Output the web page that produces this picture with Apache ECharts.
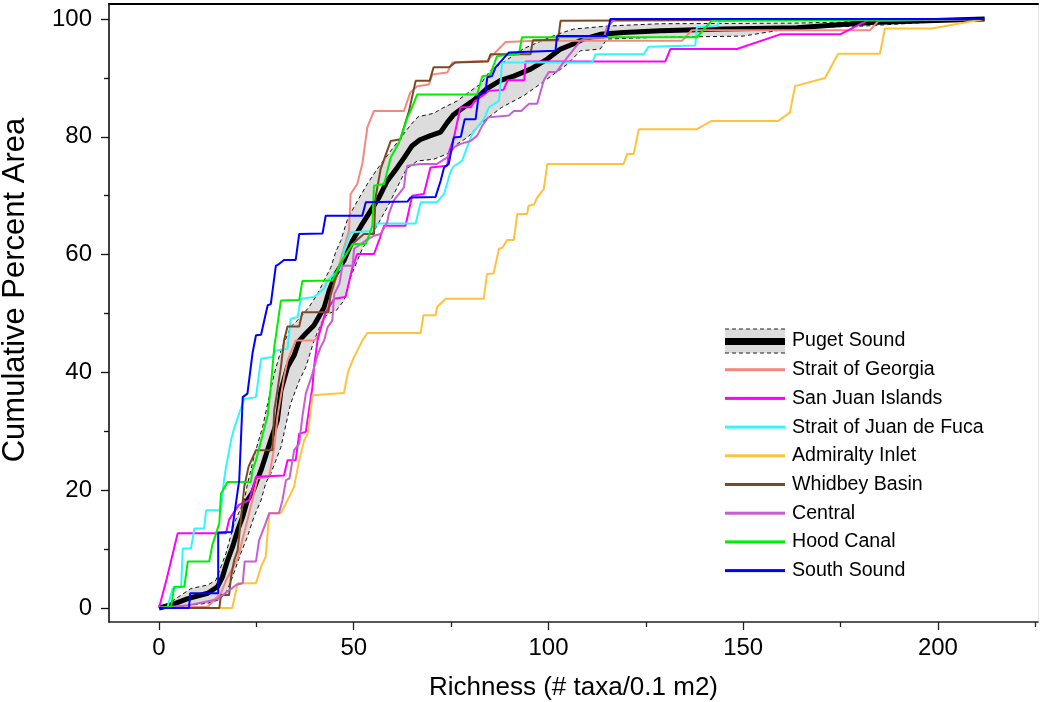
<!DOCTYPE html>
<html>
<head>
<meta charset="utf-8">
<script src="https://cdn.jsdelivr.net/npm/echarts@6/dist/echarts.min.js"></script>
<style>
html,body{margin:0;padding:0;background:#fff;}
#chart{width:1040px;height:702px;}
</style>
</head>
<body>
<div id="chart"></div>
<script>
// ---- data (x = richness, y = cumulative percent area) ----
const xTickLabels = [0, 50, 100, 150, 200];
const xMinorTicks = [25, 75, 125, 175, 225];
const yTickLabels = [0, 20, 40, 60, 80, 100];
const yMinorTicks = [10, 30, 50, 70, 90];

const seriesNames = ['Puget Sound','Strait of Georgia','San Juan Islands','Strait of Juan de Fuca','Admiralty Inlet','Whidbey Basin','Central','Hood Canal','South Sound'];

const pugetMean = [[0,0],[3,0.5],[7.4,1.6],[12.5,2.5],[15,3.6],[16.3,5.3],[17.6,8.1],[18.9,10.4],[20.2,13.2],[21.5,15.5],[22.7,18.3],[24,19.6],[26.2,23.4],[28.7,28.5],[30.4,31.9],[31.3,36.9],[33,40.9],[34.7,42.9],[36,45.4],[37.7,46.6],[39.8,48],[42.4,51],[43.7,53.9],[45.4,56.7],[47.5,59],[49.7,62.4],[52,65],[54.4,67.5],[56.5,69.7],[58.6,72.5],[61.2,74.8],[63,76.5],[65,78.5],[67,79.5],[69.7,80.2],[72.3,80.8],[74,82.4],[75.7,83.8],[78.2,85],[80.8,86.2],[84.2,88.2],[87.7,89.6],[91.1,90.3],[95.4,91.5],[99.7,93.2],[103.1,94.9],[106.5,95.8],[109,96.6],[113.3,97.4],[119.3,97.7],[128.7,98],[145,98.3],[163.8,98.5],[182.6,99.4],[212,100]];
const pugetUpper = [[0,0],[3,1],[8.2,3.3],[12.5,3.9],[14.6,4.7],[15.9,7],[17.2,9.3],[19.3,14.4],[21.9,18.3],[22.7,21],[24.5,26],[26.6,30.7],[27.9,34.7],[29.6,39.8],[31.3,43.7],[33.8,47.7],[36.4,49.4],[38.5,51.1],[40.7,53.3],[42.4,55.6],[44.1,57.8],[45.4,60.5],[46.7,62.4],[48.4,66],[50.5,68.6],[53.5,72],[56,74.5],[59.5,77.6],[62,79.8],[64.6,82],[66.5,83.4],[70.6,84],[72.3,84.7],[76.6,86.1],[79.2,87.4],[82.6,89],[85.1,91.3],[88,92.5],[93.7,95],[102.2,97.4],[106.5,98.3],[115,98.8],[128.7,99.2],[163,99.3],[212,100]];
const pugetLower = [[0,0],[3.9,0],[8.2,0.5],[12.5,0.8],[15.5,1.4],[17.2,2.5],[18.9,5.3],[21,9.3],[22.7,12.1],[24.4,15.5],[26.2,18.3],[27.4,21.2],[28.7,22.8],[31.3,27.3],[33.8,34.7],[36,38.6],[37.7,40.9],[39.8,45.4],[42,48.8],[43.3,49.9],[45.5,50.5],[47.5,52.2],[49.2,56.2],[52.2,61],[55.2,64],[58.6,68],[61.6,72],[63.5,74.5],[66.3,75.9],[70.6,76.2],[74,77.1],[76.6,78.8],[79.2,79.9],[81.7,81.6],[83.4,82.7],[88,85],[93.7,87],[99,89.5],[104.8,92.3],[108.2,94.6],[113.3,94.9],[115,96.6],[128.7,96.9],[150,97.1],[163,98.5],[180.8,98.8],[212,100]];

const straitOfGeorgia = [[0,0],[12.5,0.2],[15.9,2.5],[17.2,4.7],[20.2,8.4],[22.7,14.9],[25.3,22],[28.3,22.3],[29.6,27.3],[30.4,32.4],[32.1,39.2],[33,42],[35.1,45.4],[39.8,45.4],[40.7,46],[43.3,51.1],[45,55],[47,60],[48.8,64.1],[49.2,70.3],[50.9,72],[52.2,75.4],[53.5,81.6],[55.2,84.4],[62.9,84.4],[64.5,87.5],[66.3,88.6],[69.3,88.9],[70.2,90.6],[74,90.9],[75.3,92.6],[84.2,92.9],[89,96.1],[97.1,96.3],[134.3,96.3],[136.8,98.1],[182.6,98.1],[184.7,99.7],[212,100]];
const sanJuanIslands = [[0,0],[2,5],[4.8,12.7],[17.2,12.7],[18,15],[20.5,17.5],[23.2,18.3],[24.9,22.3],[32.1,22.5],[33,25.1],[35.1,25.1],[36,29.6],[37.7,29.9],[38.5,33.6],[39.4,37.5],[39.8,40.9],[40.7,45.4],[41.5,47.4],[42.8,50.2],[45,52.5],[47.9,52.8],[49.7,57.9],[50.9,60.1],[55.2,60.1],[56.5,62.4],[57.8,64.9],[63.3,64.9],[65,70],[68,70.3],[69.7,74.8],[74,75.1],[74.4,77.3],[75.7,79.8],[77.4,85],[80,85],[81,86],[84.7,87.8],[88.5,88],[89.5,89.6],[93.8,89.6],[94.1,92.8],[130,92.8],[131.3,94.9],[148.4,94.9],[159.5,97.4],[174.9,97.4],[181.7,99.7],[212,100]];
const straitOfJuanDeFuca = [[0,0],[2.2,0.2],[3.5,3.3],[5.7,3.6],[6.1,10.1],[8.2,10.1],[9.1,13.5],[11.6,13.5],[12.1,16.6],[15.9,16.6],[16.7,21.7],[17.2,23.9],[18.5,28.5],[19.3,30.5],[20,31.9],[21.9,35.5],[24.9,35.8],[26.2,42.3],[29.1,42.6],[30,43.7],[33,44],[33.8,49.1],[35.6,49.4],[36.4,52.5],[39.8,52.8],[42.4,54.2],[43.3,55.6],[45,56.7],[46.7,57.6],[47.5,60.7],[49.2,63.8],[55,64],[56,65.3],[65.9,65.3],[67.2,68.9],[71.4,68.9],[73.2,70.3],[74.9,74.2],[75.7,75],[77.8,75.9],[80.4,80.5],[83.4,83],[84.7,85],[87.3,86.1],[87.7,89.1],[88.1,92.6],[111.2,92.6],[112.1,94],[124.4,94],[125.7,95.3],[137.7,95.5],[138.1,98.6],[143.2,98.8],[144.1,99.7],[212,100]];
const admiraltyInlet = [[0,0],[18.8,0],[20.2,4.2],[24.9,4.2],[26.2,7],[27.4,8.7],[28.3,16.1],[31.3,16.1],[33,18.3],[34.7,20.6],[36,25.1],[37.3,28.5],[38.2,29.6],[39.4,36.1],[47.5,36.5],[48.5,40],[50,42.5],[52.2,45.4],[53.5,46.7],[67.2,46.7],[67.9,49.7],[71,49.7],[71.4,51.1],[73.6,52.5],[83.4,52.5],[84.2,56.7],[85.9,56.8],[87.3,61],[88.2,61.2],[89.4,62.5],[91.1,62.5],[92,66.9],[94.5,66.9],[94.9,68.3],[96.3,68.5],[97.1,69.7],[98.8,71.1],[99.7,75.4],[119.3,75.4],[120.2,77.1],[121.9,77.1],[123.2,81.3],[138.1,81.3],[141.9,82.7],[159,82.7],[162,84.1],[163.3,88.6],[171,90],[174.4,94.1],[185.1,94.1],[186.4,98.4],[198.4,98.4],[212,100]];
const whidbeyBasin = [[0,0],[15.5,0],[15.9,2.2],[18,2.2],[18.5,5.3],[19.3,8.1],[20.2,9.8],[21,14.9],[21.9,20.6],[23,24],[24.9,26.8],[29.1,26.8],[29.6,33.6],[30.4,36.9],[31.3,40.9],[32.1,45.4],[33,47.8],[36,47.8],[36.8,50.2],[43.5,50.2],[44,53],[45.4,56.2],[46.2,57.9],[48,60],[50,62],[52.6,63.5],[55.2,63.5],[55.6,69.7],[56.9,74.5],[59.5,79.3],[62,79.6],[62.9,81.6],[64.2,84.4],[65.9,89.5],[69.5,89.5],[70.5,91.8],[74.5,91.8],[76,92.6],[84.5,92.8],[85.1,94],[95.4,94],[96,96.4],[102.5,96.5],[103.1,99.7],[212,100]];
const central = [[0,0],[8,0.5],[15,1.5],[17,2.5],[20,4],[21.5,4.2],[22,7.9],[24.9,7.9],[25.7,11.5],[27.4,14.4],[28.3,16.1],[30.8,16.1],[31.7,18.3],[32.6,21.7],[33.5,22],[34.7,26.8],[36,27.9],[36.8,32.4],[37.7,36.4],[39.4,39.8],[40.7,42.9],[41.5,44.3],[42.4,45.4],[43.3,47.7],[44.5,48.8],[45,53.3],[46.3,55],[47.1,58.1],[49.7,58.1],[50.1,61],[53.1,62.4],[55.2,63.2],[56.9,63.5],[58.6,65.5],[59,66.9],[60.3,69.2],[62.9,71.4],[63.3,73.7],[63.8,75.1],[67.2,75.4],[71.4,75.4],[74,76.5],[75.7,78.2],[77.4,78.8],[80,79.3],[81.7,80.2],[83,81.9],[84.5,83.3],[89.8,83.6],[91.1,84.4],[93,84.4],[95,85.6],[97.1,85.6],[98.8,89.6],[100.1,91],[102,91],[104.4,93.1],[108.2,96.3],[109,96.6],[114.2,96.8],[115,98.5],[117,100],[212,100]];
const hoodCanal = [[0,0],[3.1,0.2],[3.9,3.6],[6.5,3.6],[7.4,7.9],[12.9,7.9],[13.7,10.7],[15.5,14.4],[15.9,19.4],[17.6,21.4],[23.6,21.4],[24,23.4],[24.9,25.1],[27.9,32.7],[28.7,37.5],[29.6,44.3],[31.3,52.2],[36,52.3],[36.8,55.5],[44.5,55.6],[46.7,58.7],[49.7,61.8],[53.1,61.8],[54.8,64.9],[55.2,71.7],[57.8,72],[59.5,76.5],[61.6,79],[63.8,83.3],[64.6,84.4],[66.3,87.2],[81.7,87.2],[83,90.3],[85,90.5],[86.8,93.7],[92.4,94],[93.2,96.9],[138.1,96.9],[141.9,99.7],[212,100]];
const southSound = [[0,0],[7.7,0],[8,2.5],[15.2,2.5],[15.2,12.8],[18.7,12.9],[20.6,21.7],[21.5,35.8],[22.7,36.4],[24,43.2],[24.9,46.3],[26.2,46.4],[27.9,51.4],[28.7,51.6],[30,58.1],[30.8,58.4],[32.1,59.1],[35.1,59.1],[36,63.5],[42,63.6],[42.8,66.6],[52.2,66.6],[53.1,68.9],[63.8,69],[64.6,69.7],[71,69.8],[72.3,72.5],[73.2,74.8],[74.4,75.4],[75.7,79.9],[77.5,80],[78.5,83],[81.3,83],[82.1,87.2],[83.8,87.5],[84.3,90.1],[85.5,90.3],[86.4,91.8],[89.8,94.3],[101.8,94.6],[102.2,97.1],[115,97.1],[115.9,100],[212,100]];

const colors = {
  'Strait of Georgia': '#F6877F',
  'San Juan Islands': '#FF00FF',
  'Strait of Juan de Fuca': '#33F5FF',
  'Admiralty Inlet': '#FFC23D',
  'Whidbey Basin': '#7A4A24',
  'Central': '#C65FD2',
  'Hood Canal': '#00EE00',
  'South Sound': '#0000FF'
};
const regionData = {
  'Strait of Georgia': straitOfGeorgia,
  'San Juan Islands': sanJuanIslands,
  'Strait of Juan de Fuca': straitOfJuanDeFuca,
  'Admiralty Inlet': admiraltyInlet,
  'Whidbey Basin': whidbeyBasin,
  'Central': central,
  'Hood Canal': hoodCanal,
  'South Sound': southSound
};

// ---- chart ----
const FONT = 'Arial, "Liberation Sans", sans-serif';
const X_MIN = -12.84, X_MAX = 225.7, Y_MIN = -2.38, Y_MAX = 102.55;

function svgIcon(inner) {
  const svg = "<svg xmlns='http://www.w3.org/2000/svg' width='60' height='26' viewBox='0 0 60 26'>" + inner + "</svg>";
  return 'image://data:image/svg+xml;charset=utf-8,' + encodeURIComponent(svg);
}
const pugetIcon = svgIcon(
  "<rect x='0' y='1' width='60' height='24' fill='#DCDCDC'/>" +
  "<line x1='0' y1='1' x2='60' y2='1' stroke='#222' stroke-width='1' stroke-dasharray='4,3'/>" +
  "<line x1='0' y1='25' x2='60' y2='25' stroke='#222' stroke-width='1' stroke-dasharray='4,3'/>" +
  "<rect x='0' y='10' width='60' height='7' fill='#000'/>");
function lineIcon(c) { return svgIcon("<rect x='0' y='11.5' width='60' height='3' fill='" + c + "'/>"); }

const chart = echarts.init(document.getElementById('chart'), null, {renderer: 'canvas'});

const series = [];
series.push({
  name: 'Puget band', type: 'custom', silent: true, xAxisIndex: 0, yAxisIndex: 0,
  data: [[0, 0]], clip: true, z: 1,
  renderItem: function (params, api) {
    const pts = pugetUpper.map(p => api.coord(p)).concat(pugetLower.slice().reverse().map(p => api.coord(p)));
    return {type: 'polygon', shape: {points: pts}, style: {fill: '#DCDCDC', stroke: null}};
  }
});
series.push({name: 'Puget upper', type: 'line', data: pugetUpper, symbol: 'none', silent: true, z: 2,
  lineStyle: {color: '#111', width: 1, type: [4, 3]}});
series.push({name: 'Puget lower', type: 'line', data: pugetLower, symbol: 'none', silent: true, z: 2,
  lineStyle: {color: '#111', width: 1, type: [4, 3]}});
series.push({name: 'Puget Sound', type: 'line', data: pugetMean, symbol: 'none', z: 3,
  itemStyle: {color: '#000'}, lineStyle: {color: '#000', width: 5}});
seriesNames.slice(1).forEach(function (n) {
  series.push({name: n, type: 'line', data: regionData[n], symbol: 'none', z: 4,
    itemStyle: {color: colors[n]}, lineStyle: {color: colors[n], width: 2}});
});

const option = {
  animation: false,
  backgroundColor: '#fff',
  grid: {left: 109, right: 2, top: 4, bottom: 80, containLabel: false, outerBoundsMode: 'none'},
  legend: {
    orient: 'vertical', left: 720, top: 323,
    itemWidth: 60, itemHeight: 26, itemGap: 2.7,
    textStyle: {fontSize: 19.6, color: '#000', fontFamily: FONT, padding: [0, 0, 0, 2]},
    data: seriesNames.map(function (n, i) { return {name: n, icon: i === 0 ? pugetIcon : lineIcon(colors[n])}; })
  },
  xAxis: [
    {type: 'value', min: X_MIN, max: X_MAX, position: 'bottom',
      axisLine: {show: true, onZero: false, lineStyle: {color: '#222', width: 1.6}},
      axisTick: {show: true, length: 8, customValues: xTickLabels, lineStyle: {color: '#222', width: 1.3}},
      axisLabel: {customValues: xTickLabels, fontSize: 24, color: '#000', fontFamily: FONT, margin: 14},
      splitLine: {show: false},
      name: 'Richness (# taxa/0.1 m2)', nameLocation: 'middle', nameGap: 53,
      nameTextStyle: {fontSize: 26, color: '#000', fontFamily: FONT}},
    {type: 'value', min: X_MIN, max: X_MAX, position: 'bottom',
      axisLine: {show: false, onZero: false},
      axisTick: {show: true, length: 5, customValues: xMinorTicks, lineStyle: {color: '#222', width: 1.3}},
      axisLabel: {show: false}, splitLine: {show: false}},
    {type: 'value', min: X_MIN, max: X_MAX, position: 'top',
      axisLine: {show: true, onZero: false, lineStyle: {color: '#000', width: 2}},
      axisTick: {show: false}, axisLabel: {show: false}, splitLine: {show: false}}
  ],
  yAxis: [
    {type: 'value', min: Y_MIN, max: Y_MAX, position: 'left',
      axisLine: {show: true, onZero: false, lineStyle: {color: '#111', width: 1.6}},
      axisTick: {show: true, length: 8, customValues: yTickLabels, lineStyle: {color: '#111', width: 1.3}},
      axisLabel: {customValues: yTickLabels, fontSize: 24, color: '#000', fontFamily: FONT, margin: 17},
      splitLine: {show: false},
      name: 'Cumulative Percent Area', nameLocation: 'middle', nameGap: 78, nameRotate: 90,
      nameTextStyle: {fontSize: 31, color: '#000', fontFamily: FONT, padding: [0, 0, 0, 46]}},
    {type: 'value', min: Y_MIN, max: Y_MAX, position: 'left',
      axisLine: {show: false, onZero: false},
      axisTick: {show: true, length: 5, customValues: yMinorTicks, lineStyle: {color: '#111', width: 1.3}},
      axisLabel: {show: false}, splitLine: {show: false}},
    {type: 'value', min: Y_MIN, max: Y_MAX, position: 'right',
      axisLine: {show: true, onZero: false, lineStyle: {color: '#e4e4e4', width: 1}},
      axisTick: {show: false}, axisLabel: {show: false}, splitLine: {show: false}}
  ],
  series: series
};
chart.setOption(option);
</script>
</body>
</html>
